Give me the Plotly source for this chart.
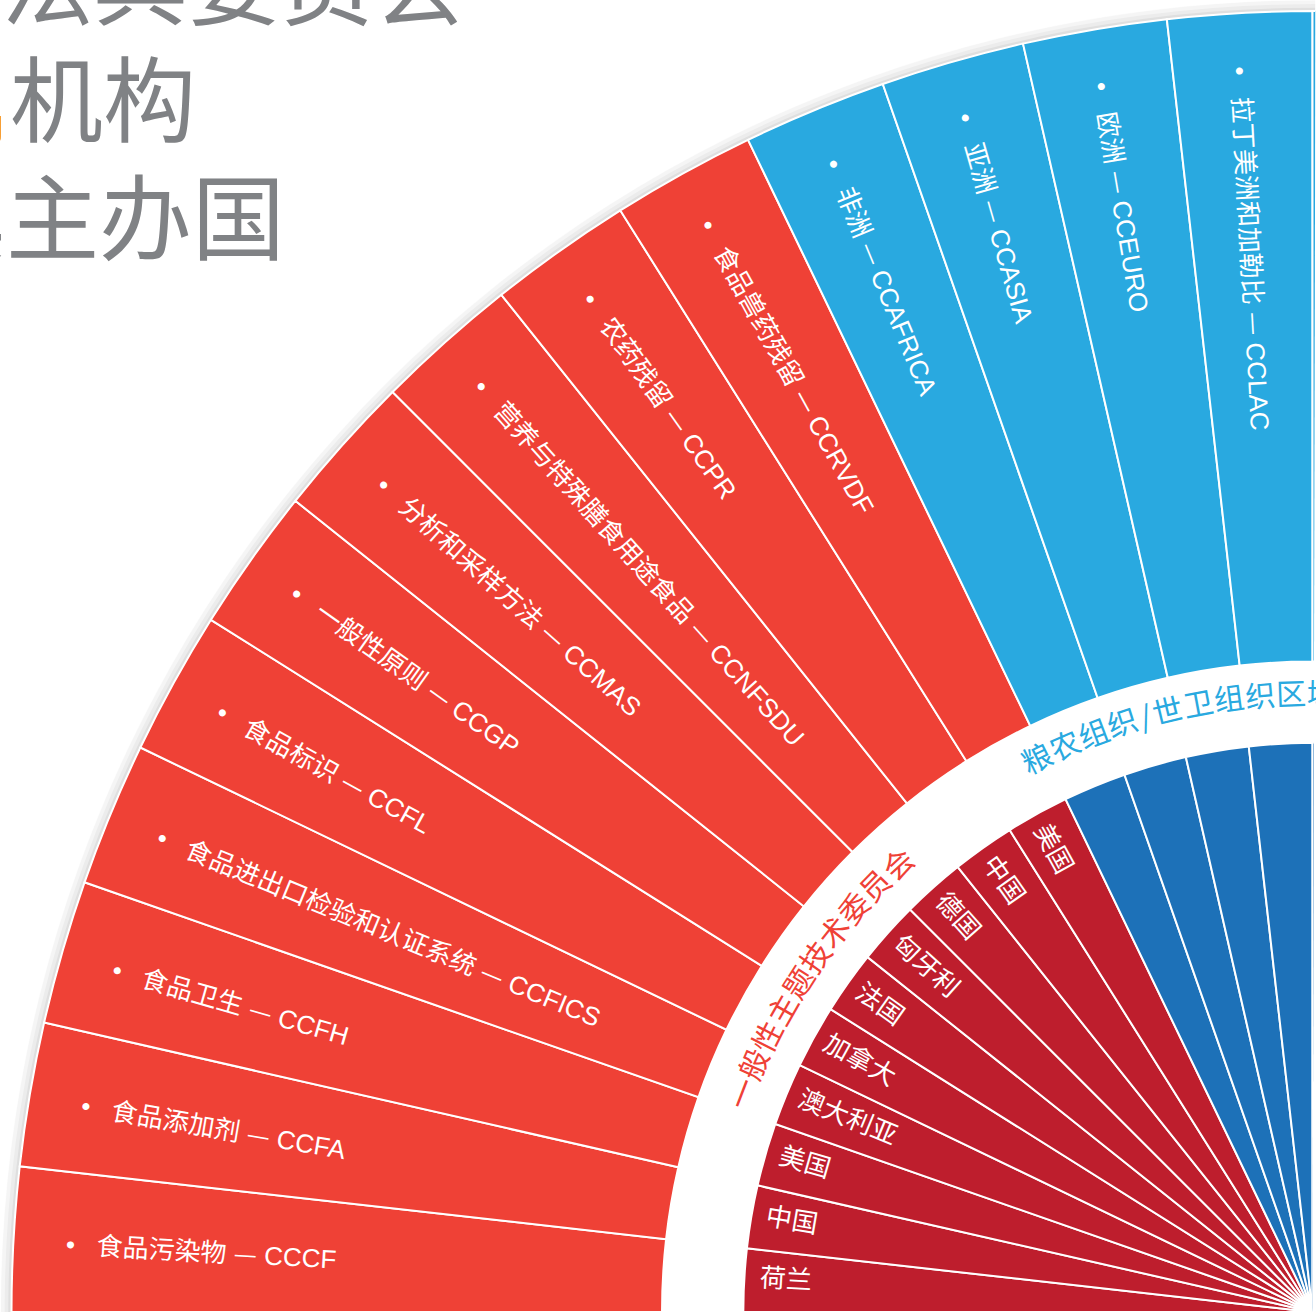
import numpy as np
import plotly.graph_objects as go

# ---------------- data ----------------
general_names = ["食品污染物", "食品添加剂", "食品卫生", "食品进出口检验和认证系统", "食品标识",
                 "一般性原则", "分析和采样方法", "营养与特殊膳食用途食品", "农药残留", "食品兽药残留"]
general_codes = ["CCCF", "CCFA", "CCFH", "CCFICS", "CCFL", "CCGP", "CCMAS", "CCNFSDU", "CCPR", "CCRVDF"]
general_hosts = ["荷兰", "中国", "美国", "澳大利亚", "加拿大", "法国", "匈牙利", "德国", "中国", "美国"]

regional_names = ["非洲", "亚洲", "欧洲", "拉丁美洲和加勒比", "北美洲和西南太平洋"]
regional_codes = ["CCAFRICA", "CCASIA", "CCEURO", "CCLAC", "CCNASWP"]

group_titles = ["一般性主题技术委员会", "粮农组织/世卫组织区域协调委员会"]
title_lines = ["食品法典委员会", "附属机构", "及其主办国"]

# ring extents (radial units)
outer_base, outer_len = 8, 8
inner_base, inner_len = 0, 7

# ---------------- styling ----------------
W, H = 1316, 1312
R_PX = 1312                      # polar radius in px (set by the domain)
R_MAX = 16 * R_PX / 1301         # radial range so that r=16 sits 1301 px from the centre
PX_PER_UNIT = R_PX / R_MAX
SECTOR0 = 89.87
CX = (W - R_PX * (1 + np.cos(np.radians(SECTOR0)))) / 2 + R_PX
CY = H
FONT_CJK = "Noto Sans CJK SC"
FONT_LAB = "Liberation Sans, Noto Sans CJK SC"
RED, BLUE = "#EF4136", "#29A9E0"
DRED, DBLUE = "#BE1E2D", "#1D71B8"
GRAY = "#808285"
ORANGE = "#F7941D"

ng = len(general_codes)
n = ng + len(regional_codes)
sw = 90 / 14
theta = [(i + 0.5) * sw for i in range(n)]

fig = go.Figure()

# soft shadow outside the outer rim
for k, a in enumerate([0.05, 0.035, 0.025, 0.015]):
    fig.add_trace(go.Barpolar(
        theta=[45], r=[0.04 + 0.045 * k], base=[16], width=[100],
        marker=dict(color=f"rgba(0,0,0,{a})", line=dict(width=0)),
        hoverinfo="skip", showlegend=False))


def ring(th, base, length, color):
    fig.add_trace(go.Barpolar(
        theta=th, r=[length] * len(th), base=[base] * len(th), width=[sw] * len(th),
        marker=dict(color=color, line=dict(color="white", width=2)),
        hoverinfo="skip", showlegend=False))


ring(theta[:ng], outer_base, outer_len, RED)
ring(theta[ng:], outer_base, outer_len, BLUE)
ring(theta[:ng], inner_base, inner_len, DRED)
ring(theta[ng:], inner_base, inner_len, DBLUE)


def to_paper(r, phi):
    a = np.radians(phi)
    px = CX - r * PX_PER_UNIT * np.cos(a)
    py = CY - r * PX_PER_UNIT * np.sin(a)
    return px / W, 1 - py / H


annotations = []


def radial_label(text, r_start, phi, size):
    x, y = to_paper(r_start, phi)
    hb = 1.45 * size + 4
    a = np.radians(phi)
    annotations.append(dict(
        text=text, x=x, y=y, xref="paper", yref="paper", xanchor="left", yanchor="top",
        xshift=-hb / 2 * np.sin(a), yshift=hb / 2 * np.cos(a), textangle=phi,
        showarrow=False, font=dict(family=FONT_LAB, size=size, color="white")))


DASH = f"<span style='font-family:{FONT_CJK}'>—</span>"
all_names = general_names + regional_names
all_codes = general_codes + regional_codes
for nm, cd, ph in zip(all_names, all_codes, theta):
    if ph < 90:
        radial_label(f"•   {nm} {DASH} {cd}", 15.37, ph, 26)
for t, ph in zip(general_hosts, theta[:ng]):
    radial_label(t, 6.83, ph, 26)


def arc_text(text, r, phi_first, size, color, em_px):
    advs = [0.5 if ch in "/" else 1.0 for ch in text]
    pos = 0.0
    rp = r * PX_PER_UNIT
    for i, ch in enumerate(text):
        if i > 0:
            pos += (advs[i - 1] + advs[i]) / 2 * em_px
        ph = phi_first + np.degrees(pos / rp)
        if ph > 92:
            break
        x, y = to_paper(r, ph)
        annotations.append(dict(
            text=ch, x=x, y=y, xref="paper", yref="paper", xanchor="center", yanchor="middle",
            textangle=ph - 90, showarrow=False, font=dict(family=FONT_CJK, size=size, color=color)))


arc_text(group_titles[0], 7.53, 20.95, 30, RED, 31.2)
arc_text(group_titles[1], 7.63, 63.5, 30, BLUE, 31.2)

# title block (partly outside the visible frame)
title_y = [-22, 95, 212]
title_right = [468, 198, 287]
title_txt = [title_lines[0],
             f"<span style='color:{ORANGE}'>{title_lines[1][:2]}</span>{title_lines[1][2:]}",
             title_lines[2]]
for t, yy, xr in zip(title_txt, title_y, title_right):
    annotations.append(dict(
        text=t, x=xr / W, y=1 - yy / H, xref="paper", yref="paper", xanchor="right", yanchor="middle",
        showarrow=False, font=dict(family=FONT_CJK, size=93, color=GRAY)))

fig.update_layout(
    width=W, height=H, margin=dict(l=0, r=0, t=0, b=0, pad=0),
    paper_bgcolor="white", plot_bgcolor="white",
    polar=dict(
        domain=dict(x=[0, 1], y=[0, 1]),
        sector=[SECTOR0, 180],
        bgcolor="rgba(0,0,0,0)",
        radialaxis=dict(range=[0, R_MAX], showline=False, showticklabels=False, ticks="",
                        showgrid=True, gridcolor="rgba(255,255,255,0.33)", griddash="4px,2px",
                        gridwidth=1, dtick=1, tick0=0, layer="above traces"),
        angularaxis=dict(direction="clockwise", rotation=180, showgrid=False, showticklabels=False,
                         ticks="", showline=False),
    ),
    annotations=annotations,
    showlegend=False,
)

fig.write_html(
    "out.html",
    config={"displayModeBar": False},
    post_script="document.body.style.margin='0';document.body.style.padding='0';"
                "document.body.style.overflow='hidden';",
)
